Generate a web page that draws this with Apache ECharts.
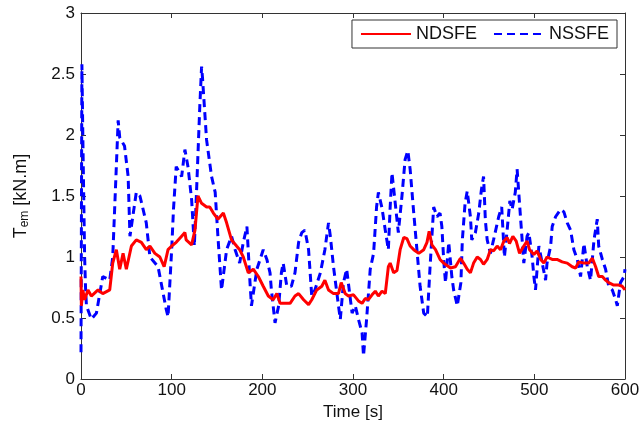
<!DOCTYPE html>
<html>
<head>
<meta charset="utf-8">
<script src="https://cdn.jsdelivr.net/npm/echarts@6/dist/echarts.min.js"></script>
<style>html,body{margin:0;padding:0;background:#fff}#c{width:644px;height:428px}</style>
</head>
<body>
<div id="c"></div>
<script>
const xTicks = [0, 100, 200, 300, 400, 500, 600];
const yTicks = [0, 0.5, 1, 1.5, 2, 2.5, 3];

const ndsfeTime = [0, 0.4, 2, 4, 7.7, 11.4, 18.8, 24, 31.7, 35, 39, 42.7, 46.4, 50, 55.6, 61, 66.6, 72, 76, 81.5, 87, 91.7, 96, 100, 105, 111, 114.6, 116, 122, 125.7, 129, 133, 138.5, 142, 146, 151, 157, 160.6, 166, 171.6, 175, 179, 184.5, 190, 195.6, 201, 206.6, 212, 216, 219.6, 225, 230.6, 236, 240, 245.5, 251, 254.5, 260, 265.6, 269, 273, 278.5, 284, 287, 291.4, 295, 300.6, 306, 310, 313.5, 317, 321, 324.6, 328, 332, 335.6, 339, 341, 344.8, 348.5, 352, 356, 359.5, 363, 367, 372.5, 378, 381.6, 384, 387, 391, 396, 400, 402, 407.5, 413, 418.5, 422, 426, 429.5, 433, 437, 440.6, 444, 448, 451.6, 455, 459, 462.7, 466.4, 470, 472.6, 476.3, 480, 483.7, 488.4, 492, 494.7, 499.5, 503, 507, 510.5, 514, 519.7, 525, 530.7, 536.3, 541.8, 545.5, 549, 554.7, 560, 564, 567.6, 571, 575, 578.6, 582, 587.6, 593, 597, 600];
const ndsfeVals = [0.84, 0.6, 0.73, 0.65, 0.73, 0.68, 0.73, 0.7, 0.73, 0.95, 1.06, 0.9, 1.03, 0.9, 1.09, 1.14, 1.12, 1.06, 1.09, 1.03, 1.0, 0.92, 1.06, 1.09, 1.12, 1.17, 1.2, 1.14, 1.1, 1.22, 1.5, 1.44, 1.41, 1.41, 1.36, 1.31, 1.36, 1.28, 1.14, 1.09, 1.06, 1.0, 0.87, 0.9, 0.84, 0.76, 0.68, 0.65, 0.7, 0.62, 0.62, 0.62, 0.68, 0.7, 0.65, 0.61, 0.65, 0.73, 0.76, 0.81, 0.73, 0.7, 0.7, 0.79, 0.7, 0.68, 0.69, 0.64, 0.62, 0.66, 0.65, 0.69, 0.72, 0.68, 0.72, 0.7, 0.92, 0.95, 0.87, 0.89, 1.06, 1.16, 1.15, 1.09, 1.06, 1.03, 1.06, 1.12, 1.21, 1.1, 1.06, 0.98, 0.95, 0.95, 0.91, 0.92, 0.99, 0.95, 0.9, 0.87, 0.95, 1.0, 0.98, 0.94, 0.98, 1.06, 1.05, 1.09, 1.06, 1.13, 1.16, 1.11, 1.17, 1.13, 1.03, 1.09, 1.13, 1.06, 1.02, 1.05, 0.98, 0.95, 1.0, 0.98, 0.98, 0.96, 0.95, 0.92, 0.91, 0.96, 0.95, 0.95, 0.99, 0.92, 0.84, 0.84, 0.81, 0.79, 0.77, 0.77, 0.76, 0.73];

const nssfeTime = [0, 1, 2, 3, 4, 5, 6, 11.4, 17, 24, 31.7, 35, 41, 42.7, 48, 52, 54, 61, 65, 72, 76, 85, 94, 96, 100, 102, 105, 111, 114.6, 118, 122, 125, 127.5, 131, 133, 134, 138.5, 144, 148, 151, 155, 160.6, 166, 170, 175, 179, 183, 186.4, 188, 194, 201, 205, 208.5, 210, 214, 218, 221, 223, 227, 232, 236, 240, 243.5, 247, 251, 254.5, 258, 264, 269, 273, 275, 278.5, 284, 286, 289.5, 293, 299, 302.5, 306, 310, 311.6, 315, 319, 322.7, 326, 328, 332, 335.6, 339, 341, 343, 346.6, 350, 354, 357.5, 360.5, 363, 367, 370.5, 374, 378, 382, 385, 389, 392.6, 396, 398, 400, 402, 405.6, 409, 411, 415, 419, 420.6, 423.6, 426, 429.5, 431, 435, 438.7, 441.6, 444, 446, 448, 451.6, 455, 460.7, 464, 467, 470, 473, 475.5, 479, 481, 484.7, 488.4, 492, 494, 497.6, 499.5, 501.3, 505, 508.7, 512.4, 514, 518, 519.7, 523.4, 529, 532.6, 536.3, 540, 543.6, 547.4, 551, 554.7, 558.4, 562, 565.8, 569.4, 571, 575, 578.6, 582, 586, 589.7, 591.5, 595, 599, 600];
const nssfeVals = [0.22, 2.58, 2.0, 1.5, 1.0, 0.75, 0.6, 0.49, 0.54, 0.84, 0.81, 1.0, 2.12, 1.98, 1.91, 1.66, 1.17, 1.53, 1.5, 1.28, 1.0, 0.92, 0.57, 0.51, 1.06, 1.39, 1.74, 1.66, 1.88, 1.74, 1.47, 1.09, 1.55, 2.23, 2.56, 2.47, 1.96, 1.66, 1.53, 1.17, 0.73, 1.06, 1.17, 1.06, 0.95, 1.12, 1.25, 0.79, 0.6, 0.9, 1.06, 0.98, 0.87, 0.73, 0.46, 0.6, 0.87, 0.95, 0.76, 0.76, 0.87, 1.12, 1.2, 1.22, 1.06, 0.68, 0.73, 0.87, 1.06, 1.28, 1.17, 0.92, 0.6, 0.49, 0.79, 0.9, 0.54, 0.6, 0.49, 0.38, 0.19, 0.49, 0.9, 1.03, 1.41, 1.53, 1.4, 1.22, 1.06, 1.41, 1.69, 1.44, 1.2, 1.5, 1.8, 1.87, 1.72, 1.36, 1.06, 0.76, 0.54, 0.51, 0.92, 1.41, 1.33, 1.36, 1.25, 0.98, 0.79, 1.12, 0.84, 0.73, 0.6, 0.79, 1.14, 1.44, 1.54, 1.33, 1.14, 1.2, 1.36, 1.55, 1.66, 1.3, 1.14, 1.03, 1.14, 1.33, 1.41, 1.0, 1.22, 1.46, 1.39, 1.53, 1.72, 1.33, 0.95, 1.17, 1.2, 1.0, 0.84, 0.73, 1.09, 0.95, 0.81, 0.95, 1.09, 1.25, 1.33, 1.39, 1.37, 1.28, 1.22, 1.06, 0.98, 0.84, 1.11, 0.92, 0.81, 1.14, 1.31, 1.09, 0.98, 0.9, 0.76, 0.73, 0.65, 0.6, 0.79, 0.84, 0.9];

const zip = (t, v) => t.map((x, i) => [x, v[i]]);
const FONT = 'Liberation Sans';
const AXC = '#333';

const chart = echarts.init(document.getElementById('c'), null, {renderer: 'canvas'});
const baseX = {
  type: 'value', min: 0, max: 600, interval: 100,
  axisLine: {show: true, onZero: false, lineStyle: {color: AXC, width: 1}},
  axisTick: {show: true, inside: true, length: 5, lineStyle: {color: AXC}},
  splitLine: {show: false}
};
const baseY = {
  type: 'value', min: 0, max: 3, interval: 0.5,
  axisLine: {show: true, onZero: false, lineStyle: {color: AXC, width: 1}},
  axisTick: {show: true, inside: true, length: 5, lineStyle: {color: AXC}},
  splitLine: {show: false}
};
chart.setOption({
  animation: false,
  backgroundColor: '#fff',
  grid: {left: 81, right: 19, top: 13, bottom: 49, containLabel: false},
  legend: {
    right: 27, top: 20,
    orient: 'horizontal',
    borderColor: '#333', borderWidth: 1, backgroundColor: '#fff',
    padding: [5, 8, 5, 8], itemGap: 16, itemWidth: 50, itemHeight: 14,
    itemStyle: {opacity: 0},
    textStyle: {fontFamily: FONT, fontSize: 18, color: '#111'},
    data: ['NDSFE', 'NSSFE']
  },
  xAxis: [
    Object.assign({}, baseX, {
      position: 'bottom',
      name: 'Time [s]', nameLocation: 'middle', nameGap: 22,
      nameTextStyle: {fontFamily: FONT, fontSize: 17, color: '#111'},
      axisLabel: {fontFamily: FONT, fontSize: 17, color: '#111', margin: 3,
        formatter: v => xTicks.includes(v) ? String(v) : ''}
    }),
    Object.assign({}, baseX, {position: 'top', axisLabel: {show: false}})
  ],
  yAxis: [
    Object.assign({}, baseY, {
      position: 'left',
      name: '{t|T}{s|em}{t| [kN.m]}', nameLocation: 'middle', nameGap: 50, nameRotate: 90,
      nameTextStyle: {
        rich: {
          t: {fontFamily: FONT, fontSize: 18, color: '#111'},
          s: {fontFamily: FONT, fontSize: 12, color: '#111', verticalAlign: 'bottom', padding: [8, 0, 0, 0]}
        }
      },
      axisLabel: {fontFamily: FONT, fontSize: 17, color: '#111', margin: 6,
        formatter: v => yTicks.includes(v) ? String(v) : ''}
    }),
    Object.assign({}, baseY, {position: 'right', axisLabel: {show: false}})
  ],
  series: [
    {
      name: 'NDSFE', type: 'line', xAxisIndex: 0, yAxisIndex: 0,
      data: zip(ndsfeTime, ndsfeVals), showSymbol: false, symbol: 'none',
      lineStyle: {color: '#ff0000', width: 3}, itemStyle: {color: '#ff0000'}, z: 3
    },
    {
      name: 'NSSFE', type: 'line', xAxisIndex: 0, yAxisIndex: 0,
      data: zip(nssfeTime, nssfeVals), showSymbol: false, symbol: 'none',
      lineStyle: {color: '#0000ff', width: 3, type: [8, 5]}, itemStyle: {color: '#0000ff'}, z: 2
    }
  ]
});
</script>
</body>
</html>
